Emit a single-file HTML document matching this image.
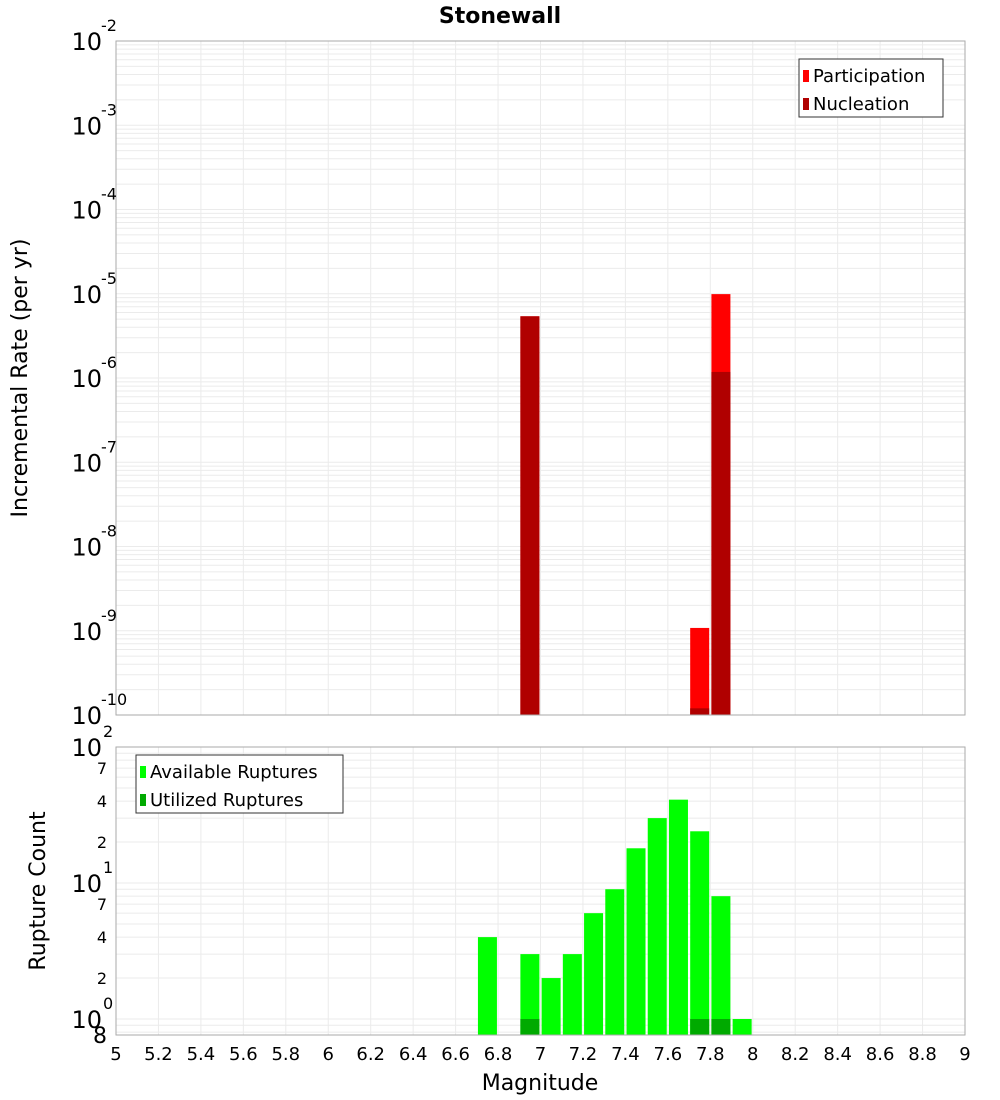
<!DOCTYPE html>
<html><head><meta charset="utf-8"><style>
body{margin:0;background:#fff}
svg{display:block;font-family:"DejaVu Sans","Liberation Sans",sans-serif}
</style></head><body>
<svg id="c" width="1000" height="1100" xmlns="http://www.w3.org/2000/svg"></svg>
<script>
const magBins=[6.75,6.85,6.95,7.05,7.15,7.25,7.35,7.45,7.55,7.65,7.75,7.85,7.95];
const participation=[0,0,5.4e-6,0,0,0,0,0,0,0,1.08e-9,9.9e-6,0];
const nucleation=[0,0,5.4e-6,0,0,0,0,0,0,0,1.2e-10,1.18e-6,0];
const available=[4,0,3,2,3,6,9,18,30,41,24,8,1];
const utilized=[0,0,1,0,0,0,0,0,0,0,1,1,0];
const xTicks=[5,5.2,5.4,5.6,5.8,6,6.2,6.4,6.6,6.8,7,7.2,7.4,7.6,7.8,8,8.2,8.4,8.6,8.8,9];
const topExps=[-2,-3,-4,-5,-6,-7,-8,-9,-10];
const botExps=[2,1,0];
const botMinor=[2,4,7];

const NS="http://www.w3.org/2000/svg";
const svg=document.getElementById('c');
function el(t,a,p){const e=document.createElementNS(NS,t);for(const k in a)e.setAttribute(k,a[k]);(p||svg).appendChild(e);return e;}
const X0=116,X1=965;
const xs=m=>X0+(m-5)/4*(X1-X0);
const T0=41,T1=715; const yT=v=>T0+(-2-Math.log10(v))*(T1-T0)/8;
const B0=747,B1=1035,DEC=136; const yB=v=>B0+(2-Math.log10(v))*DEC;
const BW=19;

function plot(y0,y1,yf,lo,hi,name){
  const g=el('g',{});
  
  
  el('rect',{x:X0,y:y0,width:X1-X0,height:y1-y0,fill:'#fff'},g);
  for(let e=lo;e<hi;e++)for(let k=1;k<=9;k++){const v=k*Math.pow(10,e);const y=yf(v);if(y<y0||y>y1)continue;
    const l=el('line',{x1:X0,x2:X1,y1:y,y2:y,stroke:'#ebebeb','stroke-width':1},g);}
  xTicks.forEach(m=>{el('line',{x1:xs(m),x2:xs(m),y1:y0,y2:y1,stroke:'#ebebeb','stroke-width':1},g);});
  return g;
}
const gt=plot(T0,T1,yT,-10,-2,'top-plot-area');
const gb=plot(B0,B1,yB,-1,2,'bottom-plot-area');

function bars(arr,yf,base,color,name,g){
  arr.forEach((v,i)=>{if(v<=0)return;const x=xs(magBins[i])-BW/2;const y=yf(v);
    const r=el('rect',{x:x,y:y,width:BW,height:base-y,fill:color},g);
    
    });
}
bars(participation,yT,T1,'#ff0000','participation-bar',gt);
bars(nucleation,yT,T1,'#b00000','nucleation-bar',gt);
bars(available,yB,B1,'#00ff00','available-bar',gb);
bars(utilized,yB,B1,'#00aa00','utilized-bar',gb);
el('rect',{x:X0,y:T0,width:X1-X0,height:T1-T0,fill:'none',stroke:'#aaa'});
el('rect',{x:X0,y:B0,width:X1-X0,height:B1-B0,fill:'none',stroke:'#aaa'});

function txt(x,y,s,size,anchor,name,extra){const t=el('text',Object.assign({x:x,y:y,'font-size':size,'text-anchor':anchor||'start',fill:'#000'},extra||{}));t.textContent=s;
  return t;}

topExps.forEach(e=>{const y=yT(Math.pow(10,e));txt(102,y+9,'10',24,'end','y-tick-top');txt(101,y-10,String(e),16,'start','y-tick-exp');});
botExps.forEach(e=>{const y=yB(Math.pow(10,e));txt(102,y+9,'10',24,'end','y-tick-bottom');txt(103,y-10,String(e),16,'start','y-tick-exp');});
for(let e=0;e<2;e++)botMinor.forEach(k=>{const y=yB(k*Math.pow(10,e));txt(107,y+6,String(k),16,'end','y-minor-tick');});
txt(107,1043,'8',22,'end','y-minor-tick');
xTicks.forEach(m=>{txt(xs(m),1060,String(m),18,'middle','x-tick');});
txt(540,1090,'Magnitude',22,'middle','x-axis-title');
txt(500,23,'Stonewall',22,'middle','chart-title',{'font-weight':'bold'});
txt(0,0,'Incremental Rate (per yr)',22,'middle','y-axis-title-top',{transform:'translate(27,378) rotate(-90)'});
txt(0,0,'Rupture Count',22,'middle','y-axis-title-bottom',{transform:'translate(45,891) rotate(-90)'});

function legend(x,y,w,items,name){const g=el('g',{});
  el('rect',{x:x,y:y,width:w,height:58,fill:'#fff',stroke:'#333'},g);
  items.forEach((it,i)=>{el('rect',{x:x+4,y:y+11+i*28,width:6,height:12,fill:it[1]},g);
    const t=el('text',{x:x+14,y:y+23+i*28,'font-size':18,fill:'#000'},g);t.textContent=it[0];
    });}
legend(799,59,144,[['Participation','#ff0000'],['Nucleation','#b00000']],'top-legend');
legend(136,755,207,[['Available Ruptures','#00ff00'],['Utilized Ruptures','#00aa00']],'bottom-legend');
</script>
</body></html>
